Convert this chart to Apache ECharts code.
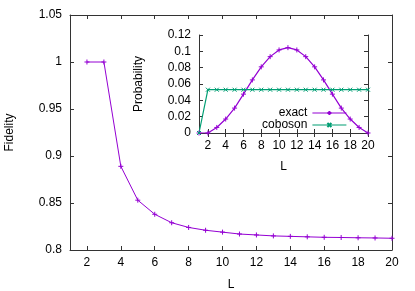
<!DOCTYPE html>
<html>
<head>
<meta charset="utf-8">
<script src="https://cdn.jsdelivr.net/npm/echarts@6/dist/echarts.min.js"></script>
<style>
  html, body { margin: 0; padding: 0; background: #fff; }
  #chart { width: 415px; height: 291px; }
</style>
</head>
<body>
<div id="chart"></div>
<script>
// main plot: fidelity vs L
const mainL = [2, 3, 4, 5, 6, 7, 8, 9, 10, 11, 12, 13, 14, 15, 16, 17, 18, 19, 20]
const fidelity = [1, 1, 0.889, 0.853, 0.838, 0.829, 0.824, 0.821, 0.819, 0.817,
  0.816, 0.815, 0.8145, 0.814, 0.8135, 0.8133, 0.813, 0.8128, 0.8125]

// inset: probability vs L
const insetL = [1, 2, 3, 4, 5, 6, 7, 8, 9, 10, 11, 12, 13, 14, 15, 16, 17, 18, 19, 20]
const exact = [0, 0, 0.0068, 0.0171, 0.0305, 0.0476, 0.065, 0.081, 0.0935, 0.1017,
  0.1045, 0.1017, 0.0935, 0.081, 0.065, 0.0476, 0.0305, 0.0171, 0.0068, 0]
const coboson = [0, 0.053, 0.053, 0.053, 0.053, 0.053, 0.053, 0.053, 0.053, 0.053,
  0.053, 0.053, 0.053, 0.053, 0.053, 0.053, 0.053, 0.053, 0.053, 0.053]

const xTicks = [2, 4, 6, 8, 10, 12, 14, 16, 18, 20]

const PURPLE = '#9400d3'
const GREEN = '#009e73'
const FONT = 'Liberation Sans'
const plus = 'path://M0,5L10,5M5,0L5,10'
const cross = 'path://M0,0L10,10M10,0L0,10'

const pairs = (xs, ys) => xs.map((x, i) => [x, ys[i]])

const line = { show: true, lineStyle: { color: '#333', width: 1 } }
const label = { color: '#000', fontSize: 12, fontFamily: FONT }

function xAxis(grid, pos, mirror, gap) {
  return {
    type: 'value', gridIndex: grid, position: pos, min: 1, max: 20,
    axisLine: line,
    axisTick: { inside: true, length: 4, customValues: xTicks, lineStyle: { color: '#333' } },
    axisLabel: mirror ? { show: false } : Object.assign({ customValues: xTicks, margin: 7 }, label),
    splitLine: { show: false },
    name: mirror ? '' : 'L', nameLocation: 'middle', nameGap: gap,
    nameTextStyle: label
  }
}

function yAxis(grid, pos, mirror, min, max, step, name, gap) {
  return {
    type: 'value', gridIndex: grid, position: pos, min: min, max: max, interval: step,
    axisLine: line,
    axisTick: { inside: true, length: 4, lineStyle: { color: '#333' } },
    axisLabel: mirror ? { show: false } : Object.assign({ margin: 8 }, label),
    splitLine: { show: false },
    name: mirror ? '' : name, nameLocation: 'middle', nameGap: gap,
    nameTextStyle: label
  }
}

const chart = echarts.init(document.getElementById('chart'))
chart.setOption({
  animation: false,
  backgroundColor: '#fff',
  grid: [
    { left: 70, right: 23, top: 15, bottom: 41, outerBoundsMode: 'none' },
    { left: 199, width: 169, top: 35, height: 98, outerBoundsMode: 'none',
      show: true, backgroundColor: '#fff', borderWidth: 0 }
  ],
  xAxis: [
    xAxis(0, 'bottom', false, 29),
    xAxis(0, 'top', true),
    xAxis(1, 'bottom', false, 28),
    xAxis(1, 'top', true)
  ],
  yAxis: [
    yAxis(0, 'left', false, 0.8, 1.05, 0.05, 'Fidelity', 54),
    yAxis(0, 'right', true, 0.8, 1.05, 0.05),
    yAxis(1, 'left', false, 0, 0.12, 0.02, 'Probability', 54),
    yAxis(1, 'right', true, 0, 0.12, 0.02)
  ],
  legend: {
    data: ['exact', 'coboson'],
    orient: 'vertical', align: 'right',
    right: 63, top: 102,
    itemWidth: 34, itemHeight: 5, itemGap: 0,
    lineStyle: { width: 1.2 },
    textStyle: Object.assign({ lineHeight: 12 }, label)
  },
  series: [
    {
      type: 'line', name: 'fidelity', xAxisIndex: 0, yAxisIndex: 0,
      data: pairs(mainL, fidelity),
      symbol: plus, symbolSize: 5,
      lineStyle: { color: PURPLE, width: 1 },
      itemStyle: { color: PURPLE, borderColor: PURPLE, borderWidth: 1 }
    },
    {
      type: 'line', name: 'exact', xAxisIndex: 2, yAxisIndex: 2,
      data: pairs(insetL, exact),
      symbol: plus, symbolSize: 5,
      lineStyle: { color: PURPLE, width: 1.2 },
      itemStyle: { color: PURPLE, borderColor: PURPLE, borderWidth: 1 }
    },
    {
      type: 'line', name: 'coboson', xAxisIndex: 2, yAxisIndex: 2,
      data: pairs(insetL, coboson),
      symbol: cross, symbolSize: 4,
      lineStyle: { color: GREEN, width: 1.2 },
      itemStyle: { color: GREEN, borderColor: GREEN, borderWidth: 1 }
    }
  ]
})
</script>
</body>
</html>
